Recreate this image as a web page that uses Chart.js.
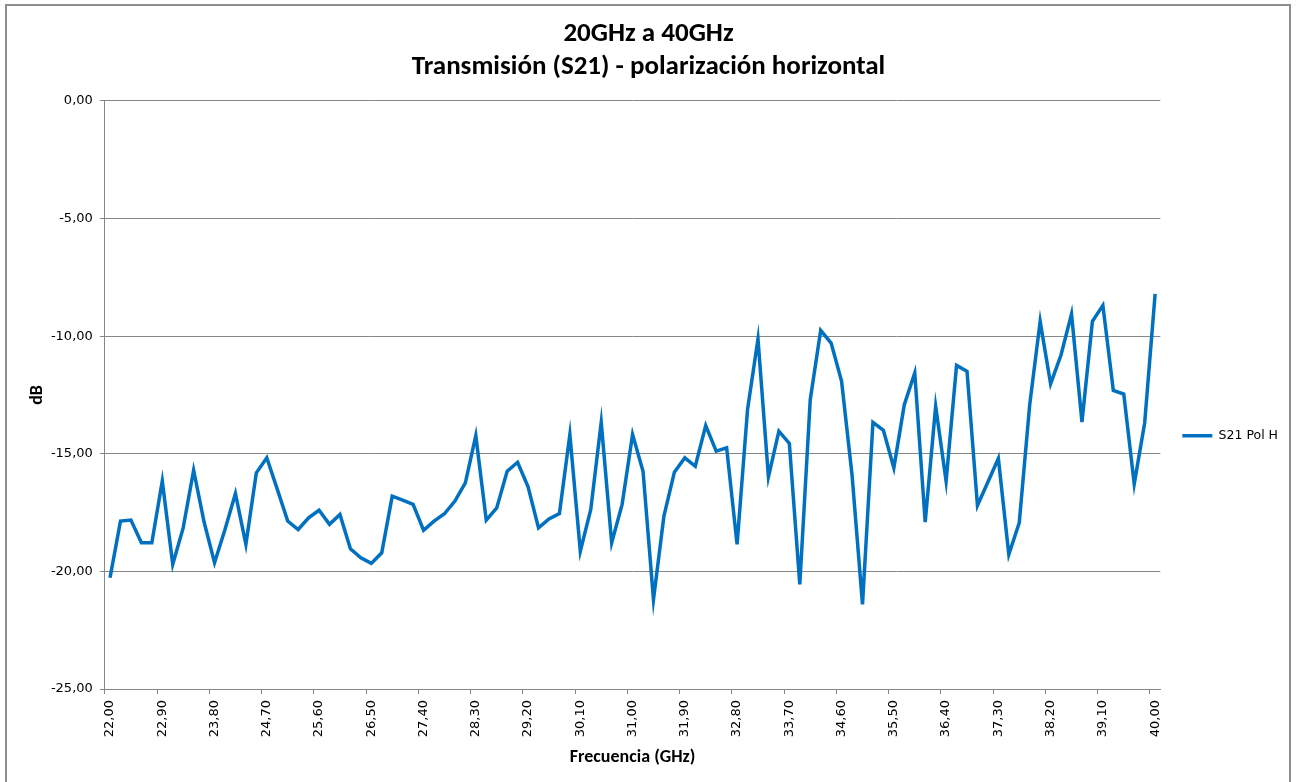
<!DOCTYPE html>
<html>
<head>
<meta charset="utf-8">
<script src="https://cdn.jsdelivr.net/npm/chart.js@4/dist/chart.umd.min.js"></script>
<style>
html, body { margin: 0; padding: 0; background: #ffffff; }
#wrap { position: relative; width: 1296px; height: 782px; overflow: hidden; background: #ffffff; }
#frame { position: absolute; left: 5px; top: 4px; width: 1286px; height: 900px; border: 2px solid #8e8e8e; box-sizing: border-box; }
#c { position: absolute; left: 0; top: 0; }
</style>
</head>
<body>
<div id="wrap">
  <div id="frame"></div>
  <canvas id="c" width="1296" height="782"></canvas>
</div>
<script>
// ---- Data ----
const titleLines = ['20GHz a 40GHz', 'Transmisión (S21) - polarización horizontal'];
const xAxisTitle = 'Frecuencia (GHz)';
const yAxisTitle = 'dB';
const seriesName = 'S21 Pol H';

const frequencies = [
  22.00, 22.18, 22.36, 22.54, 22.72, 22.90, 23.08, 23.26, 23.44, 23.62,
  23.80, 23.98, 24.16, 24.34, 24.52, 24.70, 24.88, 25.06, 25.24, 25.42,
  25.60, 25.78, 25.96, 26.14, 26.32, 26.50, 26.68, 26.86, 27.04, 27.22,
  27.40, 27.58, 27.76, 27.94, 28.12, 28.30, 28.48, 28.66, 28.84, 29.02,
  29.20, 29.38, 29.56, 29.74, 29.92, 30.10, 30.28, 30.46, 30.64, 30.82,
  31.00, 31.18, 31.36, 31.54, 31.72, 31.90, 32.08, 32.26, 32.44, 32.62,
  32.80, 32.98, 33.16, 33.34, 33.52, 33.70, 33.88, 34.06, 34.24, 34.42,
  34.60, 34.78, 34.96, 35.14, 35.32, 35.50, 35.68, 35.86, 36.04, 36.22,
  36.40, 36.58, 36.76, 36.94, 37.12, 37.30, 37.48, 37.66, 37.84, 38.02,
  38.20, 38.38, 38.56, 38.74, 38.92, 39.10, 39.28, 39.46, 39.64, 39.82,
  40.00
];

const s21PolH = [
  -20.27, -17.86, -17.82, -18.78, -18.78, -16.16, -19.70, -18.15, -15.70, -17.90,
  -19.63, -18.22, -16.69, -18.85, -15.81, -15.17, -16.50, -17.86, -18.22, -17.72,
  -17.40, -18.00, -17.58, -19.04, -19.42, -19.66, -19.21, -16.80, -16.97, -17.15,
  -18.25, -17.86, -17.55, -17.01, -16.24, -14.23, -17.82, -17.30, -15.74, -15.36,
  -16.40, -18.15, -17.77, -17.54, -14.18, -19.14, -17.37, -13.66, -18.78, -17.15,
  -14.18, -15.74, -21.19, -17.65, -15.78, -15.17, -15.53, -13.80, -14.89, -14.75,
  -18.85, -13.12, -10.12, -15.98, -14.04, -14.56, -20.55, -12.70, -9.75, -10.29,
  -11.92, -15.90, -21.40, -13.66, -14.00, -15.60, -12.91, -11.56, -17.90, -12.98,
  -16.16, -11.24, -11.49, -17.20, -16.20, -15.20, -19.28, -17.93, -12.91, -9.37,
  -12.03, -10.79, -9.06, -13.65, -9.37, -8.69, -12.31, -12.46, -16.28, -13.69,
  -8.20
];

const yMin = -25;
const yMax = 0;
const yStep = 5;
const xLabelEvery = 5;

// ---- Styling ----
const gridColor = '#878787';
const lineColor = '#0070C0';
const tickFont = { family: "'DejaVu Sans', Verdana, sans-serif", size: 13 };
const boldFont = "Carlito, Lato, 'Liberation Sans', sans-serif";

const fmt = v => Number(v).toFixed(2).replace('.', ',');

const ctx = document.getElementById('c').getContext('2d');
new Chart(ctx, {
  type: 'line',
  data: {
    labels: frequencies,
    datasets: [{
      label: seriesName,
      data: s21PolH,
      borderColor: lineColor,
      backgroundColor: lineColor,
      borderWidth: 3.5,
      pointRadius: 0,
      pointHoverRadius: 0,
      tension: 0,
      fill: false
    }]
  },
  options: {
    responsive: false,
    animation: false,
    devicePixelRatio: 1,
    layout: { padding: { top: 0, left: 9, right: 8, bottom: 0 } },
    plugins: {
      title: {
        display: true,
        text: titleLines,
        color: '#000000',
        font: { family: boldFont, size: 27, weight: 'bold', lineHeight: 1.222 },
        padding: { top: 18, bottom: 17 }
      },
      legend: {
        position: 'right',
        align: 'center',
        labels: {
          usePointStyle: true,
          pointStyle: 'line',
          pointStyleWidth: 30,
          padding: 22,
          color: '#000000',
          font: { family: "'DejaVu Sans', Verdana, sans-serif", size: 12.5 }
        },
        title: {
          display: true,
          text: ' ',
          font: { size: 12 },
          padding: { top: 0, bottom: 75 }
        }
      },
      tooltip: { enabled: false }
    },
    scales: {
      x: {
        type: 'category',
        offset: true,
        grid: {
          offset: true,
          drawOnChartArea: false,
          drawTicks: true,
          tickLength: 5,
          color: gridColor,
          tickColor: c => (c.index !== undefined && c.index % xLabelEvery === 0) ? gridColor : 'rgba(0,0,0,0)'
        },
        border: { display: true, color: gridColor, width: 1 },
        ticks: {
          autoSkip: false,
          maxRotation: 90,
          minRotation: 90,
          padding: 6,
          color: '#000000',
          font: tickFont,
          callback: (value, index) => index % xLabelEvery === 0 ? fmt(frequencies[index]) : ''
        },
        title: {
          display: true,
          text: xAxisTitle,
          color: '#000000',
          font: { family: boldFont, size: 18, weight: 'bold' },
          padding: { top: 0, bottom: 14.2 }
        },
        afterFit: s => { s.height = 93; }
      },
      y: {
        min: yMin,
        max: yMax,
        grid: { color: gridColor, tickLength: 5, drawTicks: true },
        border: { display: true, color: gridColor, width: 1 },
        ticks: {
          stepSize: yStep,
          padding: 7,
          color: '#000000',
          font: tickFont,
          callback: v => fmt(v)
        },
        title: {
          display: true,
          text: yAxisTitle,
          color: '#000000',
          font: { family: boldFont, size: 18, weight: 'bold' },
          padding: { top: 17.2, bottom: 0 }
        },
        afterFit: s => { s.width = 95.8; }
      }
    }
  }
});
</script>
</body>
</html>
